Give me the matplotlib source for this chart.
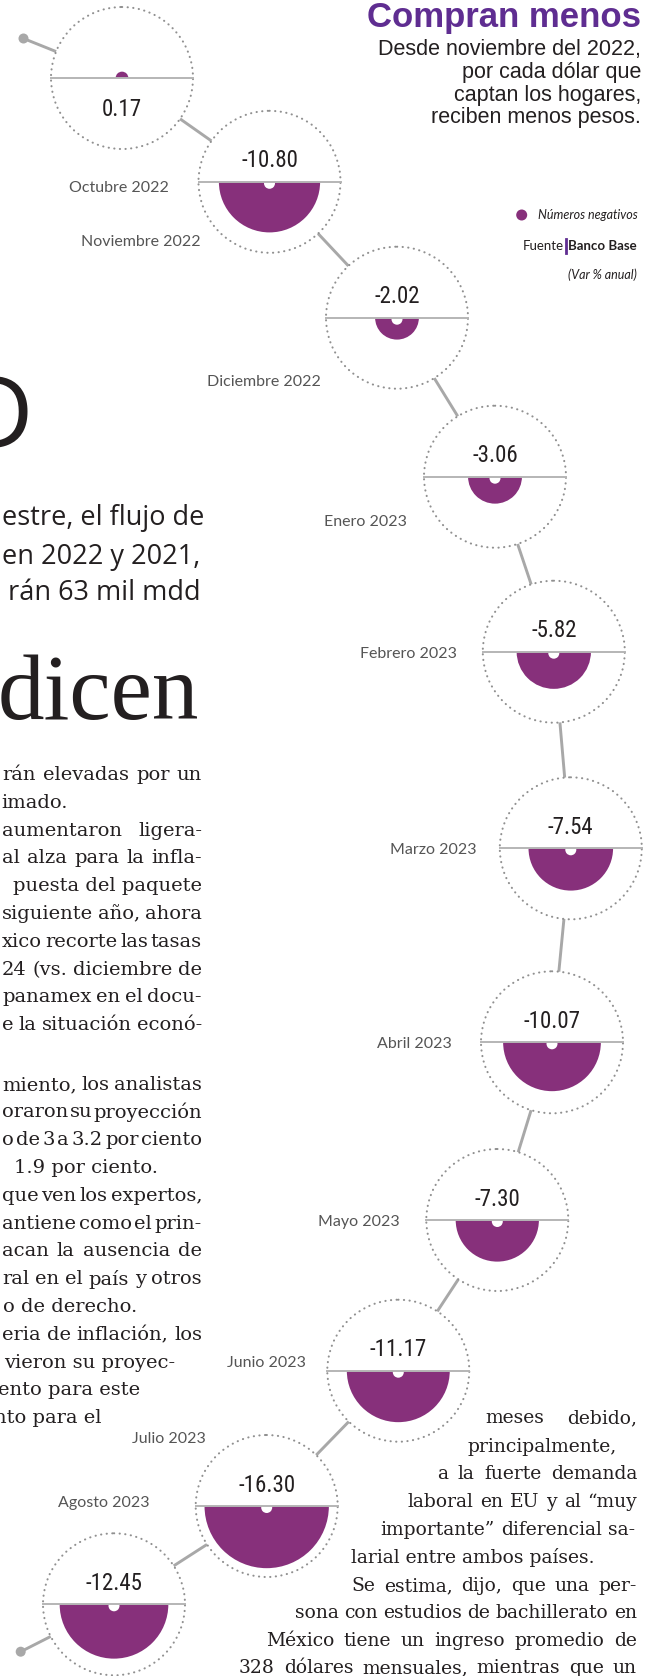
import numpy as np
import matplotlib
matplotlib.use("Agg")
import matplotlib.pyplot as plt
from matplotlib import font_manager
from matplotlib.patches import Circle, Wedge

# Datos (Var % anual)
meses = ["Octubre 2022", "Noviembre 2022", "Diciembre 2022", "Enero 2023",
         "Febrero 2023", "Marzo 2023", "Abril 2023", "Mayo 2023",
         "Junio 2023", "Julio 2023", "Agosto 2023"]
variacion = [0.17, -10.80, -2.02, -3.06, -5.82, -7.54, -10.07, -7.30,
             -11.17, -16.30, -12.45]

# Trazo de la "serpiente" (pixeles)
centro_x = [122, 269.5, 397, 495, 553.8, 570.8, 552, 497.3, 398.3, 266.7, 114]
centro_y = [78, 181.8, 317.7, 476.7, 651.7, 848.3, 1042.3, 1220, 1370.7, 1506, 1604.3]
etiqueta_x = [169, 201, 320.7, 406.7, 456.7, 476, 451.7, 400, 306, 205.7, 150]
etiqueta_y = [188, 241.7, 381.7, 522, 654, 850, 1044, 1221.7, 1362.7, 1439.3, 1502.7]
punta_ini = (23.5, 38.5)
punta_fin = (20.7, 1651.7)

PURPURA = "#87307b"
VIOLETA = "#5f2d91"
GRIS = "#a8a8a8"
TEXTO = "#231f20"

R = 71          # radio del circulo punteado
K = 15.4        # escala del semicirculo (area ~ valor)

nombres = {f.name for f in font_manager.fontManager.ttflist}


def elegir(cands, defecto="DejaVu Sans"):
    for c in cands:
        if c in nombres:
            return c
    return defecto


SANS = elegir(["Lato", "Open Sans", "Liberation Sans"])
ANCHA = elegir(["Open Sans", "Lato", "Liberation Sans"])
ARIAL = elegir(["Liberation Sans", "DejaVu Sans"])
ANGOSTA = elegir(["Liberation Sans Narrow", "Roboto Condensed", "Open Sans Condensed"], ARIAL)
SERIF = "DejaVu Serif"
SERIF2 = elegir(["Liberation Serif", "DejaVu Serif"])

fig = plt.figure(figsize=(6.62, 16.76), dpi=100)
ax = fig.add_axes([0, 0, 1, 1])
ax.set_xlim(0, 662)
ax.set_ylim(1676, 0)
ax.axis("off")
renderer = fig.canvas.get_renderer()


def justificar(linea, x0, x1, y, minimo=0.0, **kw):
    # reparte las palabras entre x0 y x1; si la linea queda muy corta, va a la derecha
    completa = ax.text(x1, y, linea, ha="right", va="center", **kw)
    if completa.get_window_extent(renderer).width < minimo * (x1 - x0):
        return
    completa.remove()
    palabras = linea.split()
    textos = [ax.text(0, y, p, ha="left", va="center", **kw) for p in palabras]
    anchos = [t.get_window_extent(renderer).width for t in textos]
    hueco = (x1 - x0 - sum(anchos)) / max(len(palabras) - 1, 1)
    x = x0
    for t, w in zip(textos, anchos):
        t.set_x(x)
        x += w + hueco


# conectores
xs = [punta_ini[0]] + centro_x + [punta_fin[0]]
ys = [punta_ini[1]] + centro_y + [punta_fin[1]]
for i in range(len(xs) - 1):
    p0 = np.array([xs[i], ys[i]])
    p1 = np.array([xs[i + 1], ys[i + 1]])
    u = (p1 - p0) / np.linalg.norm(p1 - p0)
    a = p0 + (R * u if i > 0 else 0)
    b = p1 - (R * u if i < len(xs) - 2 else 0)
    ax.plot([a[0], b[0]], [a[1], b[1]], color=GRIS, lw=2.1, solid_capstyle="butt", zorder=1)
for p in (punta_ini, punta_fin):
    ax.add_patch(Circle(p, 5, fc=GRIS, ec="none", zorder=2))

# circulos
for mes, v, cx, cy, lx, ly in zip(meses, variacion, centro_x, centro_y, etiqueta_x, etiqueta_y):
    ax.add_patch(Circle((cx, cy), R, fill=False, ec="#909090", lw=1.5,
                        ls=(0, (0.1, 2.6)), capstyle="round", zorder=2))
    r = K * np.sqrt(abs(v))
    if v < 0:
        ax.add_patch(Wedge((cx, cy), r, 0, 180, fc=PURPURA, ec="none", zorder=3))
        ax.add_patch(Circle((cx, cy + 1.5), 5.5, fc="white", ec="none", zorder=4))
        ty = cy - 21
    else:
        ax.add_patch(Wedge((cx, cy), r, 180, 360, fc=PURPURA, ec="none", zorder=3))
        ty = cy + 31
    ax.plot([cx - R, cx + R], [cy, cy], color="#b5b5b5", lw=1.4, zorder=5)
    ax.text(cx, ty, f"{v:.2f}", ha="center", va="center", fontsize=16.5,
            family=ANGOSTA, color=TEXTO, zorder=6)
    ax.text(lx, ly, mes, ha="right", va="center", fontsize=11.5, family=SANS,
            color="#555555")

# titulo
ax.text(641, 17, "Compran menos", ha="right", va="center", fontsize=25,
        fontweight="bold", family=ARIAL, color=VIOLETA)
subtitulo = ["Desde noviembre del 2022,", "por cada dólar que",
             "captan los hogares,", "reciben menos pesos."]
for j, s in enumerate(subtitulo):
    ax.text(641, 50 + 22.5 * j, s, ha="right", va="center", fontsize=15.5,
            family=ARIAL, color=TEXTO)

# leyenda y fuente
ax.add_patch(Circle((521.7, 215), 5.5, fc=PURPURA, ec="none"))
ax.text(638, 215, "Números negativos", ha="right", va="center", fontsize=9,
        style="italic", family=SANS, color=TEXTO)
t_banco = ax.text(637, 246, "Banco Base", ha="right", va="center", fontsize=9.5,
                  fontweight="bold", family=SANS, color=TEXTO)
w_banco = t_banco.get_window_extent(renderer).width
ax.plot([637 - w_banco - 2.5] * 2, [239, 253], color=VIOLETA, lw=2)
ax.text(637 - w_banco - 4.5, 246, "Fuente", ha="right", va="center", fontsize=9.5,
        family=SANS, color=TEXTO)
ax.text(637, 275, "(Var % anual)", ha="right", va="center", fontsize=9,
        style="italic", family=SANS, color=TEXTO)

# nota vecina (recortada a la izquierda)
ax.text(33, 448, "D", ha="right", va="baseline", fontsize=72, family=ANCHA,
        color=TEXTO)
entrada = [("estre, el flujo de", 204, 518), ("en 2022 y 2021,", 200, 557),
           ("rán 63 mil mdd", 201, 593)]
for s, x1, y in entrada:
    ax.text(x1, y, s, ha="right", va="center", fontsize=19.5, family=ANCHA, color=TEXTO)
ax.text(199, 719, "dicen", ha="right", va="baseline", fontsize=67, family=SERIF2,
        color=TEXTO)

IZQ = dict(fontsize=14, family=SERIF, color=TEXTO)
DER = dict(fontsize=13.5, family=SERIF, color=TEXTO)
# (texto, x, y, alineacion): "j" justificada hasta x, "d" termina en x, "i" empieza en x
cuerpo_izq = [
    ("rán elevadas por un", 202, 775, "j"), ("imado.", 68, 803, "d"),
    ("aumentaron ligera-", 202, 831, "j"), ("al alza para la infla-", 202, 858, "j"),
    ("puesta del paquete", 202, 886, "j"), ("siguiente año, ahora", 202, 914, "j"),
    ("xico recorte las tasas", 202, 942, "j"), ("24 (vs. diciembre de", 202, 970, "j"),
    ("panamex en el docu-", 202, 997, "j"), ("e la situación econó-", 202, 1025, "j"),
    ("miento, los analistas", 202, 1085, "j"), ("oraron su proyección", 202, 1112, "j"),
    ("o de 3 a 3.2 por ciento", 202, 1140, "j"), ("1.9 por ciento.", 14, 1168, "i"),
    ("que ven los expertos,", 202, 1196, "j"), ("antiene como el prin-", 202, 1224, "j"),
    ("acan la ausencia de", 202, 1251, "j"), ("ral en el país y otros", 202, 1279, "j"),
    ("o de derecho.", 3, 1307, "i"), ("eria de inflación, los", 202, 1335, "j"),
    ("vieron su proyec-", 175, 1363, "d"), ("ento para este", 140, 1390, "d"),
    ("nto para el", 102, 1418, "d"),
]
for s, x, y, modo in cuerpo_izq:
    if modo == "j":
        justificar(s, 2, x, y, minimo=0.95, **IZQ)
    elif modo == "d":
        ax.text(x, y, s, ha="right", va="center", **IZQ)
    else:
        ax.text(x, y, s, ha="left", va="center", **IZQ)

cuerpo_der = [
    ("meses debido,", 485, 637, 1418, "j"),
    ("principalmente,", 463, 617, 1447, "d"),
    ("a la fuerte demanda", 437, 637, 1474, "j"),
    ("laboral en EU y al \u201cmuy", 408, 637, 1502, "j"),
    ("importante\u201d diferencial sa-", 380, 635, 1530, "j"),
    ("larial entre ambos países.", 351, 595, 1557, "i"),
    ("Se estima, dijo, que una per-", 351, 637, 1586, "j"),
    ("sona con estudios de bachillerato en", 295, 637, 1613, "j"),
    ("México tiene un ingreso promedio de", 266, 637, 1641, "j"),
    ("328 dólares mensuales, mientras que un", 239, 637, 1668, "j"),
]
for s, x0, x1, y, modo in cuerpo_der:
    if modo == "j":
        justificar(s, x0, x1, y, **DER)
    elif modo == "d":
        ax.text(x1, y, s, ha="right", va="center", **DER)
    else:
        ax.text(x0, y, s, ha="left", va="center", **DER)

fig.savefig("out.png", dpi=100, facecolor="white")
